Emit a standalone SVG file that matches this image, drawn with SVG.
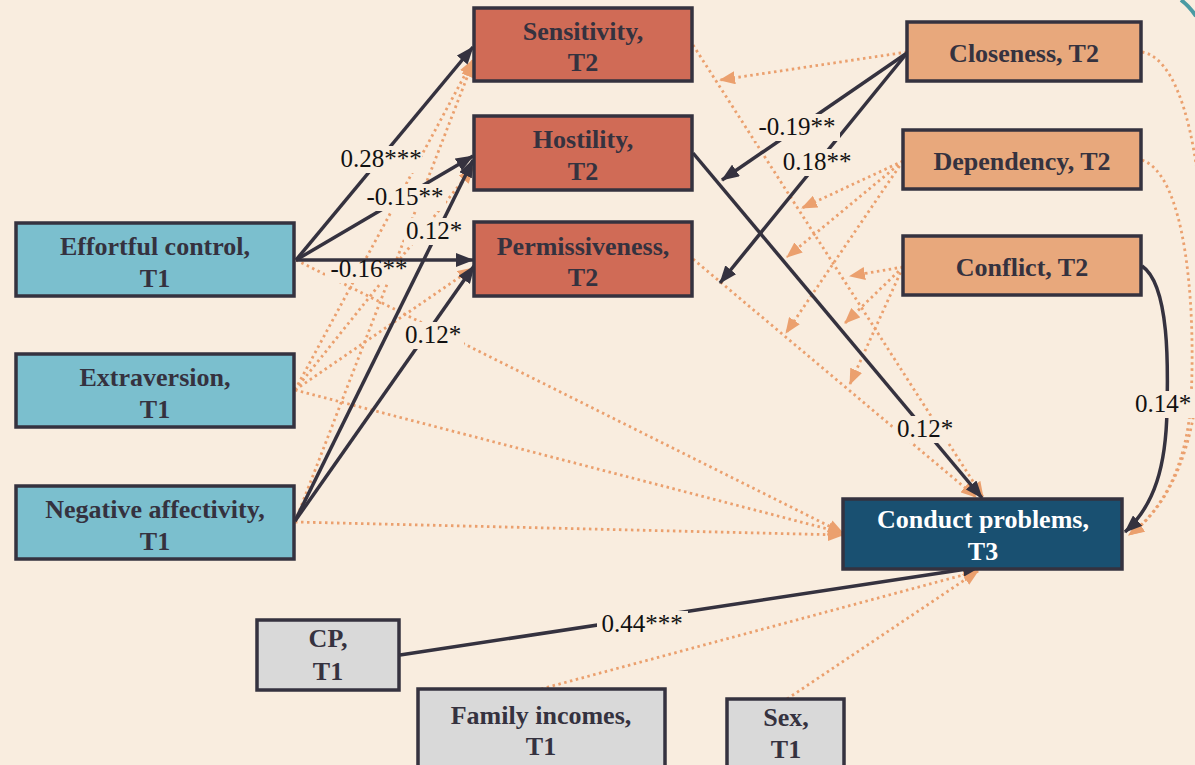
<svg xmlns="http://www.w3.org/2000/svg" width="1195" height="765" viewBox="0 0 1195 765">
<defs>
<style>
.bg{fill:#F9EDDF}
.node{stroke:#35323F;stroke-width:3.5}
.par{fill:#D06B56}
.rel{fill:#E8A87C}
.tem{fill:#7BBFCE}
.cov{fill:#D9D9D9}
.out{fill:#195071}
.nt{font-weight:bold;font-size:26px;fill:#35323F;text-anchor:middle}
.nw{fill:#FFFFFF}
.sol{fill:none;stroke:#35323F;stroke-width:3.5;marker-end:url(#ah)}
.dot{fill:none;stroke:#EBA06E;stroke-width:2.8;stroke-dasharray:2.5 3.5;marker-end:url(#ao)}
.lb{font-size:25px;fill:#111111;text-anchor:middle}
.lbg{fill:#F9EDDF}
</style>
<marker id="ah" markerUnits="userSpaceOnUse" markerWidth="18" markerHeight="14" refX="17" refY="7" orient="auto">
<path d="M0,0 L18,7 L0,14 Z" fill="#35323F"/>
</marker>
<marker id="ao" markerUnits="userSpaceOnUse" markerWidth="16" markerHeight="13" refX="15" refY="6.5" orient="auto">
<path d="M0,0 L16,6.5 L0,13 Z" fill="#EBA06E"/>
</marker>
</defs>
<rect class="bg" x="0" y="0" width="1195" height="765"/>
<path d="M1181,0 Q1189,6 1196,16" fill="none" stroke="#4A9AA3" stroke-width="4"/>

<g id="connectors" font-family="Liberation Serif, DejaVu Serif, serif">
<path class="dot" d="M907,52 L720,80"/>
<path class="dot" d="M903,161 L802,208"/>
<path class="dot" d="M903,161 L787,257"/>
<path class="dot" d="M903,161 L786,333"/>
<path class="dot" d="M903,267 L850,276"/>
<path class="dot" d="M903,267 L845,323"/>
<path class="dot" d="M903,267 L850,384"/>
<path class="dot" d="M693,45 L983,497"/>
<path class="dot" d="M693,259 L976,497"/>
<path class="dot" d="M1142,52 C1200,62 1215,260 1196,400 C1188,460 1165,510 1129,535"/>
<path class="dot" d="M1142,160 C1185,175 1196,300 1191,400 C1187,465 1163,510 1129,535"/>
<path class="dot" d="M296,260 L843,533"/>
<path class="dot" d="M295,390 L843,533"/>
<path class="dot" d="M295,522 L843,535"/>
<path class="dot" d="M295,390 L473,60"/>
<path class="dot" d="M295,390 L473,168"/>
<path class="dot" d="M295,390 L473,268"/>
<path class="dot" d="M295,522 L473,62"/>
<path class="dot" d="M541,689 L978,571"/>
<path class="dot" d="M787,699 L978,571"/>
<path class="sol" d="M296,260 L473,47"/>
<path class="sol" d="M296,260 L473,156"/>
<path class="sol" d="M296,260 L473,260"/>
<path class="sol" d="M295,521 L473,160"/>
<path class="sol" d="M295,521 L474,266"/>
<path class="sol" d="M907,53 L722,180"/>
<path class="sol" d="M907,53 L720,283"/>
<path class="sol" d="M693,153 L982,498"/>
<path class="sol" d="M400,655 L980,567"/>
<path class="sol" d="M1142,266 C1170,285 1168,370 1167,410 C1166,465 1155,505 1125,532"/>
<rect class="lbg" x="340" y="146" width="82" height="27"/>
<text class="lb" x="381" y="167">0.28***</text>
<rect class="lbg" x="364" y="184" width="82" height="27"/>
<text class="lb" x="405" y="205">-0.15**</text>
<rect class="lbg" x="404" y="218" width="60" height="27"/>
<text class="lb" x="434" y="239">0.12*</text>
<rect class="lbg" x="325" y="262" width="82" height="21"/>
<text class="lb" x="369" y="277">-0.16**</text>
<rect class="lbg" x="404" y="322" width="60" height="27"/>
<text class="lb" x="433" y="343">0.12*</text>
<rect class="lbg" x="754" y="114" width="86" height="27"/>
<text class="lb" x="797" y="135">-0.19**</text>
<rect class="lbg" x="779" y="149" width="78" height="27"/>
<text class="lb" x="817" y="170">0.18**</text>
<rect class="lbg" x="893" y="416" width="64" height="27"/>
<text class="lb" x="925" y="437">0.12*</text>
<rect class="lbg" x="1132" y="391" width="63" height="27"/>
<text class="lb" x="1163" y="412">0.14*</text>
<rect class="lbg" x="597" y="611" width="91" height="27"/>
<text class="lb" x="642" y="632">0.44***</text>
</g>

<g font-family="Liberation Serif, DejaVu Serif, serif">
<g id="sensitivity"><rect class="node par" x="474" y="8" width="218" height="73"/><text class="nt" x="583" y="40">Sensitivity,</text><text class="nt" x="583" y="71">T2</text></g>
<g id="hostility"><rect class="node par" x="474" y="116" width="218" height="74"/><text class="nt" x="583" y="148">Hostility,</text><text class="nt" x="583" y="180">T2</text></g>
<g id="permissiveness"><rect class="node par" x="474" y="222" width="218" height="74"/><text class="nt" x="583" y="255">Permissiveness,</text><text class="nt" x="583" y="286">T2</text></g>
<g id="closeness"><rect class="node rel" x="907" y="22" width="234" height="59"/><text class="nt" x="1024" y="62">Closeness, T2</text></g>
<g id="dependency"><rect class="node rel" x="903" y="130" width="238" height="59"/><text class="nt" x="1022" y="170">Dependency, T2</text></g>
<g id="conflict"><rect class="node rel" x="903" y="236" width="238" height="59"/><text class="nt" x="1022" y="276">Conflict, T2</text></g>
<g id="effortful"><rect class="node tem" x="16" y="223" width="278" height="73"/><text class="nt" x="155" y="255">Effortful control,</text><text class="nt" x="155" y="287">T1</text></g>
<g id="extraversion"><rect class="node tem" x="16" y="354" width="278" height="73"/><text class="nt" x="155" y="386">Extraversion,</text><text class="nt" x="155" y="418">T1</text></g>
<g id="negative"><rect class="node tem" x="16" y="486" width="278" height="73"/><text class="nt" x="155" y="518">Negative affectivity,</text><text class="nt" x="155" y="550">T1</text></g>
<g id="conduct"><rect class="node out" x="843" y="499" width="279" height="70"/><text class="nt nw" x="983" y="528">Conduct problems,</text><text class="nt nw" x="983" y="560">T3</text></g>
<g id="cp"><rect class="node cov" x="257" y="620" width="142" height="70"/><text class="nt" x="328" y="647">CP,</text><text class="nt" x="328" y="680">T1</text></g>
<g id="income"><rect class="node cov" x="418" y="689" width="247" height="82"/><text class="nt" x="541" y="724">Family incomes,</text><text class="nt" x="541" y="755">T1</text></g>
<g id="sex"><rect class="node cov" x="727" y="699" width="117" height="72"/><text class="nt" x="786" y="726">Sex,</text><text class="nt" x="786" y="758">T1</text></g>
</g>
</svg>
